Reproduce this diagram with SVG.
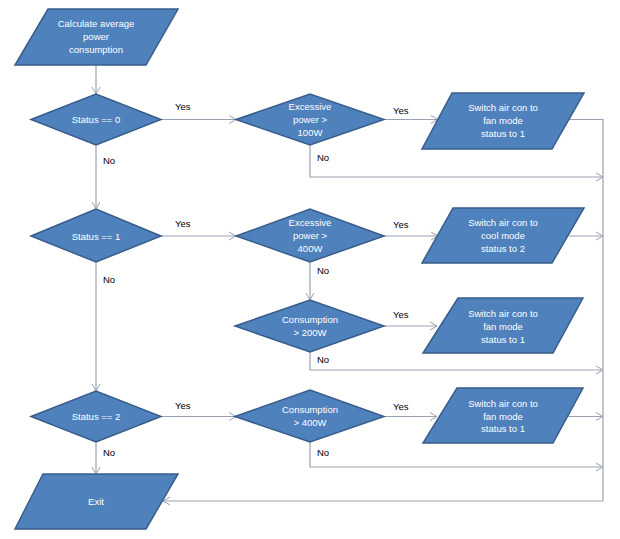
<svg xmlns="http://www.w3.org/2000/svg" width="620" height="539" viewBox="0 0 620 539">
<defs>
<marker id="ah" markerWidth="10" markerHeight="10" refX="8" refY="5" orient="auto" markerUnits="userSpaceOnUse">
<path d="M1,1 L8,5 L1,9" fill="none" stroke="#9ba3b0" stroke-width="1"/>
</marker>
<style>
.shape{fill:#4f81bd;stroke:#385d8a;stroke-width:1.5}
.t{fill:#ffffff;font-family:"Liberation Sans",Arial,sans-serif;font-size:9.5px;text-anchor:middle}
.lbl{fill:#000000;font-family:"Liberation Sans",Arial,sans-serif;font-size:9.5px}
.c{fill:none;stroke:#9ba3b0;stroke-width:1.2}
.ca{fill:none;stroke:#9ba3b0;stroke-width:1.2;marker-end:url(#ah)}
</style>
</defs>
<rect width="620" height="539" fill="#ffffff"/>
<g id="connectors">
<path class="ca" d="M96,65 V94"/>
<path class="ca" d="M161,119.5 H236"/>
<path class="ca" d="M96,145 V209"/>
<path class="ca" d="M384,119.5 H438"/>
<path class="ca" d="M310,145 V177 H603"/>
<path class="c" d="M569,119.5 H603 V501"/>
<path class="ca" d="M161,236 H236"/>
<path class="ca" d="M384,236 H438"/>
<path class="ca" d="M569,236 H603"/>
<path class="ca" d="M310,262 V300"/>
<path class="ca" d="M384,326 H437"/>
<path class="ca" d="M310,352 V370 H603"/>
<path class="ca" d="M96,262 V391"/>
<path class="ca" d="M161,416.5 H236"/>
<path class="ca" d="M384,416.5 H437"/>
<path class="ca" d="M568,416.5 H603"/>
<path class="ca" d="M310,442 V467 H603"/>
<path class="ca" d="M96,442 V474"/>
<path class="ca" d="M603,501 H163"/>
<text class="lbl" x="175" y="110">Yes</text>
<text class="lbl" x="103" y="164">No</text>
<text class="lbl" x="393" y="114">Yes</text>
<text class="lbl" x="317" y="161">No</text>
<text class="lbl" x="175" y="227">Yes</text>
<text class="lbl" x="103" y="283">No</text>
<text class="lbl" x="393" y="228">Yes</text>
<text class="lbl" x="317" y="274">No</text>
<text class="lbl" x="393" y="318">Yes</text>
<text class="lbl" x="317" y="363">No</text>
<text class="lbl" x="175" y="409">Yes</text>
<text class="lbl" x="103" y="456">No</text>
<text class="lbl" x="393" y="410">Yes</text>
<text class="lbl" x="317" y="456">No</text>
</g>
<g id="start">
<polygon class="shape" points="48,9 178,9 146,65 15,65"/>
<text class="t" x="96" y="27">Calculate average</text>
<text class="t" x="96" y="40">power</text>
<text class="t" x="96" y="53">consumption</text>
</g>
<g id="status0">
<polygon class="shape" points="31,119.5 96,94 161,119.5 96,145"/>
<text class="t" x="96" y="123">Status == 0</text>
</g>
<g id="excess100">
<polygon class="shape" points="236,119.5 310,94 384,119.5 310,145"/>
<text class="t" x="310" y="110">Excessive</text>
<text class="t" x="310" y="123">power &gt;</text>
<text class="t" x="310" y="136">100W</text>
</g>
<g id="fan1">
<polygon class="shape" points="452,93 584,93 552,149 422,149"/>
<text class="t" x="503" y="111">Switch air con to</text>
<text class="t" x="503" y="124">fan mode</text>
<text class="t" x="503" y="137">status to 1</text>
</g>
<g id="status1">
<polygon class="shape" points="31,236 96,209 161,236 96,262"/>
<text class="t" x="96" y="239.5">Status == 1</text>
</g>
<g id="excess400">
<polygon class="shape" points="236,236 310,209 384,236 310,262"/>
<text class="t" x="310" y="226">Excessive</text>
<text class="t" x="310" y="239">power &gt;</text>
<text class="t" x="310" y="252">400W</text>
</g>
<g id="cool2">
<polygon class="shape" points="453,208 584,208 552,263 422,263"/>
<text class="t" x="503" y="226">Switch air con to</text>
<text class="t" x="503" y="239">cool mode</text>
<text class="t" x="503" y="252">status to 2</text>
</g>
<g id="cons200">
<polygon class="shape" points="235,326 310,300 384,326 310,352"/>
<text class="t" x="310" y="323">Consumption</text>
<text class="t" x="310" y="336">&gt; 200W</text>
</g>
<g id="fan2">
<polygon class="shape" points="458,298 583,298 553,353 423,353"/>
<text class="t" x="503" y="317">Switch air con to</text>
<text class="t" x="503" y="330">fan mode</text>
<text class="t" x="503" y="343">status to 1</text>
</g>
<g id="status2">
<polygon class="shape" points="31,416.5 96,391 161,416.5 96,442"/>
<text class="t" x="96" y="420">Status == 2</text>
</g>
<g id="cons400">
<polygon class="shape" points="235,416.5 310,390 384,416.5 310,442"/>
<text class="t" x="310" y="413">Consumption</text>
<text class="t" x="310" y="426">&gt; 400W</text>
</g>
<g id="fan3">
<polygon class="shape" points="457,388 583,388 553,443 423,443"/>
<text class="t" x="503" y="407">Switch air con to</text>
<text class="t" x="503" y="420">fan mode</text>
<text class="t" x="503" y="432">status to 1</text>
</g>
<g id="exit">
<polygon class="shape" points="43,474 178,474 146,529 15,529"/>
<text class="t" x="96" y="505">Exit</text>
</g>
</svg>
